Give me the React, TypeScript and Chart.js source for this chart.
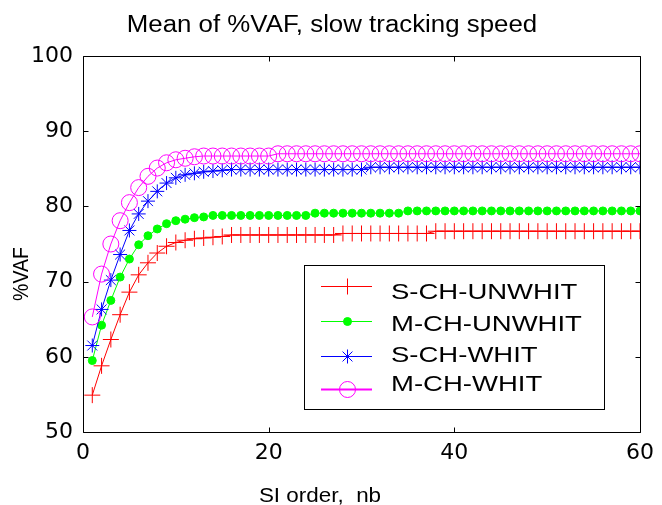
import React, { useEffect, useRef } from "react";
import { Chart, registerables } from "chart.js";

Chart.register(...registerables);

const titleText = "Mean of %VAF, slow tracking speed";
const xTitle = "SI order,  nb";
const yTitle = "%VAF";
const seriesNames = ["S-CH-UNWHIT", "M-CH-UNWHIT", "S-CH-WHIT", "M-CH-WHIT"];
const seriesColors = ["#ff0000", "#00ff00", "#0000ff", "#ff00ff"];

const orders = [
  1, 2, 3, 4, 5, 6, 7, 8, 9, 10,
  11, 12, 13, 14, 15, 16, 17, 18, 19, 20,
  21, 22, 23, 24, 25, 26, 27, 28, 29, 30,
  31, 32, 33, 34, 35, 36, 37, 38, 39, 40,
  41, 42, 43, 44, 45, 46, 47, 48, 49, 50,
  51, 52, 53, 54, 55, 56, 57, 58, 59, 60,
];

const sChUnwhit = [
  54.9, 58.8, 62.3, 65.6, 68.6, 70.9, 72.5, 73.8, 74.7, 75.2,
  75.5, 75.7, 75.8, 75.9, 76.0, 76.2, 76.2, 76.2, 76.2, 76.2,
  76.2, 76.2, 76.2, 76.2, 76.2, 76.2, 76.2, 76.4, 76.4, 76.4,
  76.4, 76.4, 76.4, 76.4, 76.4, 76.4, 76.4, 76.7, 76.7, 76.7,
  76.7, 76.7, 76.7, 76.7, 76.7, 76.7, 76.7, 76.7, 76.7, 76.7,
  76.7, 76.7, 76.7, 76.7, 76.7, 76.7, 76.7, 76.7, 76.7, 76.7,
];

const mChUnwhit = [
  59.5, 64.2, 67.5, 70.6, 73.0, 74.9, 76.1, 77.0, 77.7, 78.1,
  78.3, 78.5, 78.6, 78.8, 78.8, 78.8, 78.8, 78.8, 78.8, 78.8,
  78.8, 78.8, 78.8, 78.8, 79.1, 79.1, 79.1, 79.1, 79.1, 79.1,
  79.1, 79.1, 79.1, 79.1, 79.4, 79.4, 79.4, 79.4, 79.4, 79.4,
  79.4, 79.4, 79.4, 79.4, 79.4, 79.4, 79.4, 79.4, 79.4, 79.4,
  79.4, 79.4, 79.4, 79.4, 79.4, 79.4, 79.4, 79.4, 79.4, 79.4,
];

const sChWhit = [
  61.5, 66.3, 70.2, 73.6, 76.8, 79.0, 80.7, 82.0, 83.1, 83.8,
  84.2, 84.4, 84.6, 84.7, 84.8, 84.9, 84.9, 84.9, 84.9, 84.9,
  84.9, 84.9, 84.9, 84.9, 84.9, 84.9, 84.9, 84.9, 84.9, 84.9,
  85.2, 85.2, 85.2, 85.2, 85.2, 85.2, 85.2, 85.2, 85.2, 85.2,
  85.2, 85.2, 85.2, 85.2, 85.2, 85.2, 85.2, 85.2, 85.2, 85.2,
  85.2, 85.2, 85.2, 85.2, 85.2, 85.2, 85.2, 85.2, 85.2, 85.2,
];

const mChWhit = [
  65.3, 71.0, 75.0, 78.1, 80.5, 82.5, 84.0, 85.1, 85.8, 86.2,
  86.4, 86.6, 86.7, 86.7, 86.7, 86.7, 86.7, 86.7, 86.7, 86.7,
  87.0, 87.0, 87.0, 87.0, 87.0, 87.0, 87.0, 87.0, 87.0, 87.0,
  87.0, 87.0, 87.0, 87.0, 87.0, 87.0, 87.0, 87.0, 87.0, 87.0,
  87.0, 87.0, 87.0, 87.0, 87.0, 87.0, 87.0, 87.0, 87.0, 87.0,
  87.0, 87.0, 87.0, 87.0, 87.0, 87.0, 87.0, 87.0, 87.0, 87.0,
];

const seriesValues = [sChUnwhit, mChUnwhit, sChWhit, mChWhit];
const pointStyles = ["cross", "circle", "star", "circle"];
const pointRadii = [8, 4, 7, 8];

function drawMarker(ctx: CanvasRenderingContext2D, style: string, x: number, y: number, r: number, color: string, filled: boolean) {
  ctx.save();
  ctx.strokeStyle = color;
  ctx.fillStyle = color;
  ctx.lineWidth = 1;
  ctx.beginPath();
  if (style === "cross" || style === "star") {
    ctx.moveTo(x - r, y);
    ctx.lineTo(x + r, y);
    ctx.moveTo(x, y - r);
    ctx.lineTo(x, y + r);
    if (style === "star") {
      const d = r * Math.SQRT1_2;
      ctx.moveTo(x - d, y - d);
      ctx.lineTo(x + d, y + d);
      ctx.moveTo(x - d, y + d);
      ctx.lineTo(x + d, y - d);
    }
    ctx.stroke();
  } else {
    ctx.arc(x, y, r, 0, Math.PI * 2);
    if (filled) ctx.fill();
    ctx.stroke();
  }
  ctx.restore();
}

function drawText(ctx: CanvasRenderingContext2D, text: string, x: number, y: number, size: number, sx: number, align: CanvasTextAlign) {
  ctx.save();
  ctx.font = `${size}px "Liberation Sans", Arial, sans-serif`;
  ctx.fillStyle = "#000";
  ctx.textAlign = align;
  ctx.textBaseline = "alphabetic";
  ctx.translate(x, y);
  ctx.scale(sx, 1);
  ctx.fillText(text, 0, 0);
  ctx.restore();
}

const decorPlugin = {
  id: "matlabDecor",
  afterDraw(chart: any) {
    const ctx: CanvasRenderingContext2D = chart.ctx;
    const { left, right, top, bottom } = chart.chartArea;
    const xs = chart.scales.x;
    const ys = chart.scales.y;
    const L = Math.round(left) + 0.5;
    const R = Math.round(right) + 0.5;
    const T = Math.round(top) + 0.5;
    const B = Math.round(bottom) + 0.5;

    ctx.save();
    ctx.strokeStyle = "#000";
    ctx.lineWidth = 1;
    ctx.beginPath();
    ctx.rect(L, T, R - L, B - T);
    for (const t of xs.ticks) {
      const px = Math.round(xs.getPixelForValue(t.value)) + 0.5;
      ctx.moveTo(px, B);
      ctx.lineTo(px, B - 5);
      ctx.moveTo(px, T);
      ctx.lineTo(px, T + 5);
    }
    for (const t of ys.ticks) {
      const py = Math.round(ys.getPixelForValue(t.value)) + 0.5;
      ctx.moveTo(L, py);
      ctx.lineTo(L + 5, py);
      ctx.moveTo(R, py);
      ctx.lineTo(R - 5, py);
    }
    ctx.stroke();
    ctx.restore();

    // title and axis titles
    drawText(ctx, titleText, 332, 32, 23.5, 1.1, "center");
    drawText(ctx, xTitle, 320, 502, 19.5, 1.15, "center");
    ctx.save();
    ctx.font = `19.5px "Liberation Sans", Arial, sans-serif`;
    ctx.fillStyle = "#000";
    ctx.textAlign = "center";
    ctx.textBaseline = "alphabetic";
    ctx.translate(28, 274);
    ctx.scale(1.15, 1);
    ctx.rotate(-Math.PI / 2);
    ctx.fillText(yTitle, 0, 0);
    ctx.restore();

    // legend
    ctx.save();
    ctx.fillStyle = "#fff";
    ctx.fillRect(304.5, 265.5, 300, 144);
    ctx.strokeStyle = "#000";
    ctx.lineWidth = 1;
    ctx.strokeRect(304.5, 265.5, 300, 144);
    ctx.restore();
    const markerY = [286, 321, 356, 389];
    const textY = [299, 331, 362, 391];
    seriesNames.forEach((name, i) => {
      ctx.save();
      ctx.strokeStyle = seriesColors[i];
      ctx.lineWidth = i === 3 ? 2 : 1;
      ctx.beginPath();
      ctx.moveTo(321, markerY[i] + 0.5);
      ctx.lineTo(372, markerY[i] + 0.5);
      ctx.stroke();
      ctx.restore();
      drawMarker(ctx, pointStyles[i], 347.5, markerY[i] + 0.5, pointRadii[i], seriesColors[i], i === 1);
      drawText(ctx, name, 391, textY[i], 22, 1.25, "left");
    });
  },
};

export default function App() {
  const canvasRef = useRef<HTMLCanvasElement | null>(null);

  useEffect(() => {
    if (!canvasRef.current) return;
    const datasets = seriesNames.map((name, i) => ({
      label: name,
      data: orders.map((o, j) => ({ x: o, y: seriesValues[i][j] })),
      borderColor: seriesColors[i],
      backgroundColor: i === 1 ? seriesColors[i] : "rgba(0,0,0,0)",
      pointBorderColor: seriesColors[i],
      pointBackgroundColor: i === 1 ? seriesColors[i] : "rgba(0,0,0,0)",
      borderWidth: 1,
      pointStyle: pointStyles[i],
      pointRadius: pointRadii[i],
      pointBorderWidth: 1,
      tension: 0,
      fill: false,
      order: 3 - i,
    }));
    const chart = new Chart(canvasRef.current, {
      type: "line",
      data: { datasets },
      options: {
        animation: false,
        responsive: false,
        maintainAspectRatio: false,
        devicePixelRatio: 1,
        layout: { padding: { top: 56, right: 18, left: 0, bottom: 0 } },
        plugins: {
          legend: { display: false },
          title: { display: false },
          tooltip: { enabled: false },
        },
        scales: {
          x: {
            type: "linear",
            min: 0,
            max: 60,
            grid: { display: false, drawTicks: false },
            border: { display: false },
            ticks: {
              stepSize: 20,
              padding: 8,
              color: "#000",
              font: { family: "DejaVu Sans", size: 22 },
              maxRotation: 0,
            },
            afterFit: (s: any) => {
              s.height = 73;
            },
          },
          y: {
            type: "linear",
            min: 50,
            max: 100,
            grid: { display: false, drawTicks: false },
            border: { display: false },
            ticks: {
              stepSize: 10,
              padding: 10,
              color: "#000",
              font: { family: "DejaVu Sans", size: 22 },
            },
            afterFit: (s: any) => {
              s.width = 83;
            },
          },
        },
      },
      plugins: [decorPlugin],
    } as any);
    return () => chart.destroy();
  }, []);

  return (
    <div style={{ position: "fixed", left: 0, top: 0, width: 662, height: 505, background: "#fff" }}>
      <canvas ref={canvasRef} width={662} height={505} style={{ display: "block" }} />
    </div>
  );
}
